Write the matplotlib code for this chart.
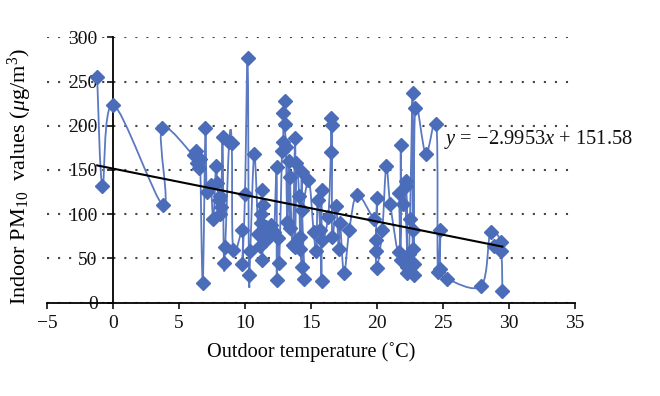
import numpy as np
import matplotlib
matplotlib.use("Agg")
import matplotlib.pyplot as plt
from matplotlib.path import Path
from matplotlib.patches import PathPatch

plt.rcParams['font.family'] = ['Liberation Serif', 'DejaVu Serif']
plt.rcParams['mathtext.fontset'] = 'custom'
plt.rcParams['mathtext.rm'] = 'Liberation Serif'
plt.rcParams['mathtext.it'] = 'Liberation Serif:italic'

# Outdoor temperature (°C), in series order
temp = [-1.2, -0.8, 0.0, 3.8, 3.7, 6.1, 6.3, 6.4, 6.5, 6.6, 6.8, 7.0, 7.1, 7.4, 7.6,
        7.8, 7.9, 8.0, 8.1, 8.1, 8.2, 8.3, 8.4, 8.5, 8.8, 9.0, 9.1, 9.8, 9.8, 10.0,
        10.2, 10.3, 10.4, 10.7, 11.0, 11.1, 11.2, 11.3, 11.2, 11.3, 11.4, 11.5, 11.6,
        11.8, 12.0, 12.2, 12.4, 12.4, 12.5, 12.6, 12.8, 12.9, 12.9, 13.0, 13.0, 13.1,
        13.2, 13.3, 13.4, 13.4, 13.6, 13.8, 13.8, 13.9, 14.1, 14.2, 14.3, 14.3, 14.3,
        14.5, 14.2, 14.8, 15.2, 15.4, 15.5, 15.7, 15.8, 15.8, 15.8, 16.3, 16.5, 16.5,
        16.6, 16.6, 16.9, 17.1, 17.2, 17.5, 17.9, 18.5, 19.8, 20.0, 19.9, 19.9, 20.0,
        20.4, 20.7, 21.0, 21.7, 21.8, 21.8, 21.7, 22.0, 22.2, 22.3, 22.2, 22.3, 22.4,
        22.5, 22.7, 22.7, 22.8, 22.7, 22.8, 22.9, 23.7, 24.5, 24.6, 24.8, 24.8, 25.3,
        27.9, 28.6, 29.4, 28.9, 29.4, 29.5]
# Indoor PM10 (µg/m3), in series order
pm10 = [255, 132, 224, 110, 197, 167, 172, 158, 152, 163, 22, 197, 125, 133, 94,
        154, 135, 116, 100, 121, 108, 187, 45, 63, 182, 180, 59, 82, 44, 123,
        277, 31, 58, 168, 78, 64, 100, 127, 90, 48, 110, 70, 85,
        75, 88, 80, 153, 26, 73, 45, 171, 182, 214, 228, 202, 176,
        91, 160, 84, 142, 65, 186, 63, 158, 120, 61, 148, 40, 105,
        27, 74, 139, 80, 58, 116, 82, 24, 127, 71, 97, 170, 209,
        201, 74, 109, 61, 90, 33, 82, 122, 95, 118, 71, 58, 39,
        82, 154, 112, 57, 178, 48, 124, 112, 137, 40, 132, 33, 55,
        95, 237, 61, 31, 82, 44, 220, 168, 202, 34, 82, 38, 27,
        19, 80, 68, 64, 58, 13]

slope = -2.9953
intercept = 151.58

x_ticks = [-5, 0, 5, 10, 15, 20, 25, 30, 35]
y_ticks = [0, 50, 100, 150, 200, 250, 300]

line_color = '#5b79c2'
marker_color = '#4b6cb8'

fig = plt.figure(figsize=(6.6, 3.96), dpi=100)
ax = fig.add_axes([47/660, 1 - 302.5/396, 528/660, 265/396])

# smoothed connecting line (Catmull-Rom as cubic Bezier)
P = np.column_stack([temp, pm10]).astype(float)
n = len(P)
verts = [P[0]]
codes = [Path.MOVETO]
for i in range(n - 1):
    p0 = P[i - 1] if i > 0 else P[i]
    p1 = P[i]
    p2 = P[i + 1]
    p3 = P[i + 2] if i + 2 < n else P[i + 1]
    c1 = p1 + (p2 - p0) / 6.0
    c2 = p2 - (p3 - p1) / 6.0
    verts += [c1, c2, p2]
    codes += [Path.CURVE4] * 3
ax.add_patch(PathPatch(Path(verts, codes), facecolor='none', edgecolor=line_color,
                       lw=1.3, zorder=2))

ax.plot(temp, pm10, linestyle='none', marker='D', markersize=6.8,
        color=marker_color, markeredgecolor=marker_color, zorder=3)

# linear trend line
xt = np.array([min(temp), max(temp)])
ax.plot(xt, slope * xt + intercept, color='black', lw=1.5, zorder=4)

ax.text(25.05, 184, r'$y$ = −2.9953$x$ + 151.58', fontsize=14.8, va='center',
        ha='left', color='#111111')

ax.set_xlim(-5, 35)
ax.set_ylim(0, 300)
ax.set_xticks(x_ticks)
ax.set_yticks(y_ticks)
ax.set_xticklabels([str(v).replace('-', '−') for v in x_ticks])

ax.yaxis.grid(True, linestyle=(0, (1, 4.3)), color='#444444', lw=1.5)
ax.set_axisbelow(True)

for s in ['top', 'right']:
    ax.spines[s].set_visible(False)
ax.spines['left'].set_position(('data', 0))
ax.spines['left'].set_linewidth(1.3)
ax.spines['bottom'].set_linewidth(1.3)
ax.tick_params(axis='both', labelsize=14, direction='out', length=4, width=1.2,
               colors='#111111')
ax.tick_params(axis='y', pad=7)
ax.tick_params(axis='x', pad=5)

ax.set_xlabel('Outdoor temperature (˚C)', fontsize=14.6)
ax.set_ylabel(r'Indoor PM$_{10}$  values ($\mu$g/m$^3$)', fontsize=16)
ax.yaxis.set_label_coords(-0.025, 0.477)
ax.xaxis.set_label_coords(0.5, -0.15)

fig.savefig('out.png', dpi=100)
